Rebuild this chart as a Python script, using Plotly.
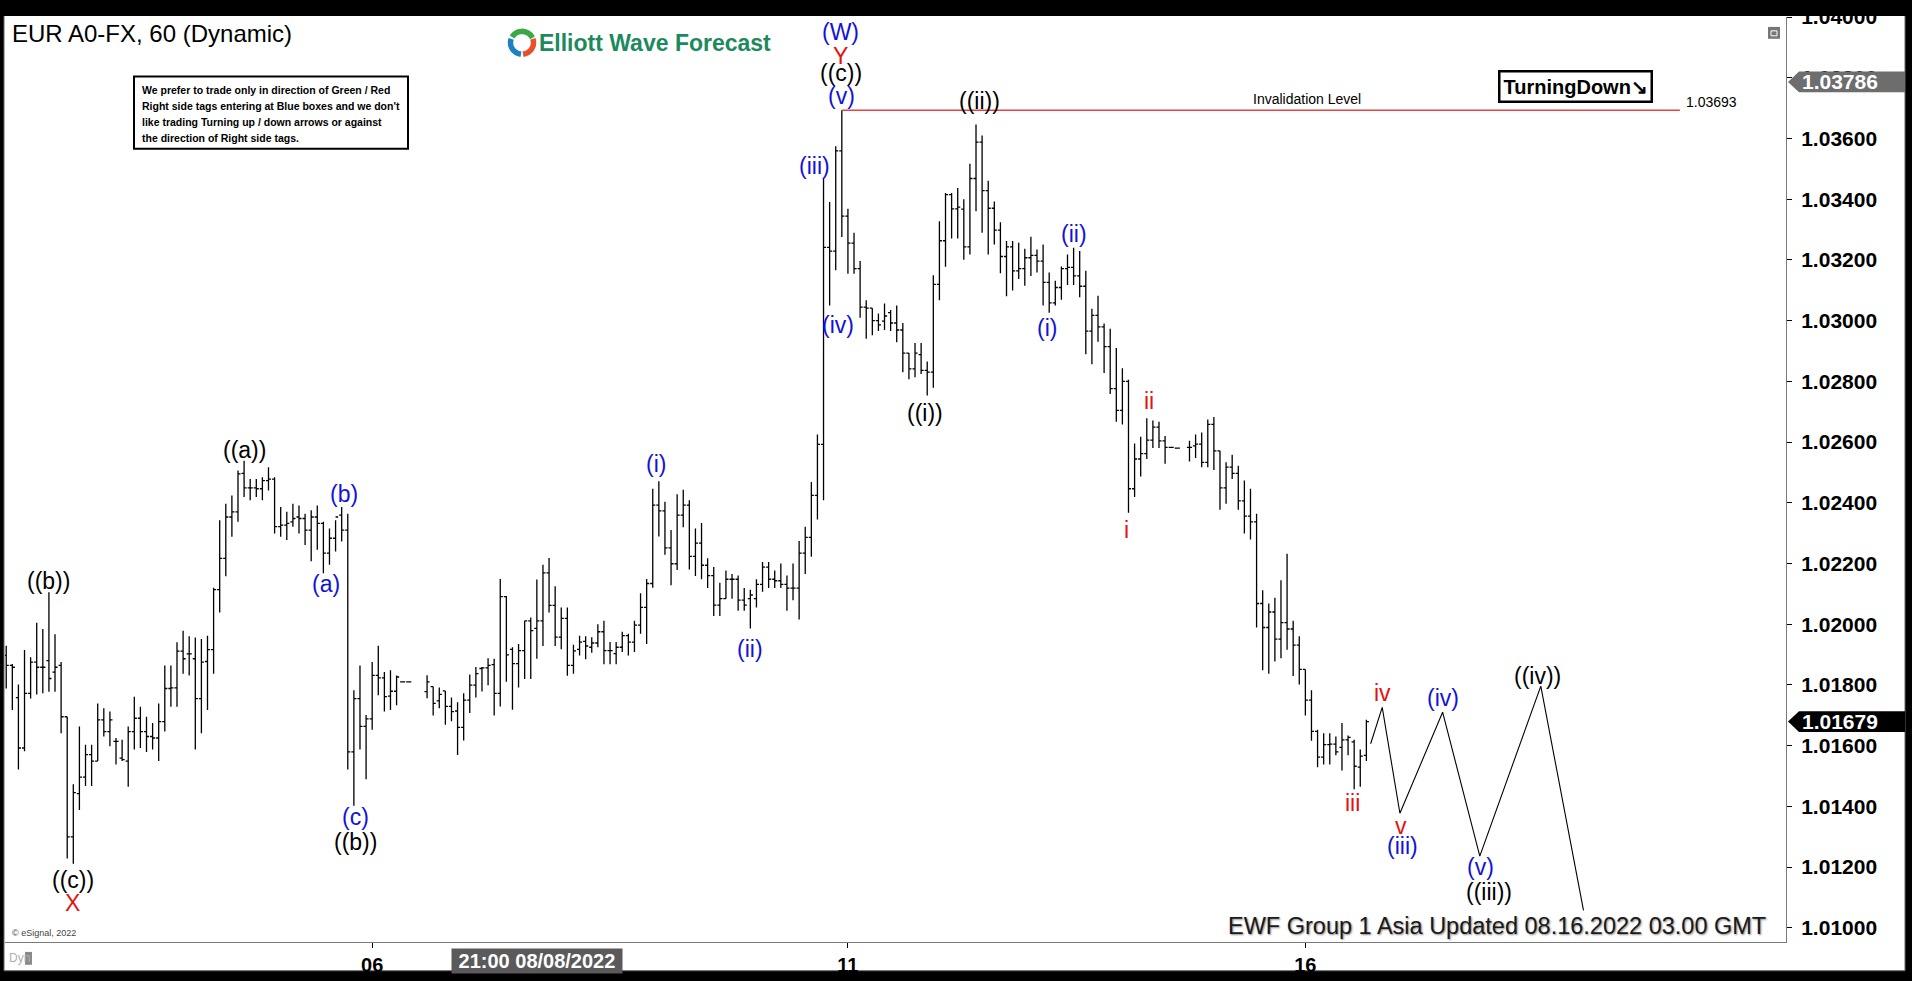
import math
import plotly.graph_objects as go

# ---------------- DATA ----------------
bar_open = [
    1.01897, 1.01864, 1.01758, 1.01592, 1.01772, 1.01875, 1.01858, 1.01880, 1.01842, 1.01864,
    1.01695, 1.01299, 1.01442, 1.01496, 1.01570, 1.01549, 1.01685, 1.01646, 1.01614, 1.01559,
    1.01549, 1.01646, 1.01690, 1.01646, 1.01630, 1.01625, 1.01679, 1.01788, 1.01790, 1.01911,
    1.01902, 1.01886, 1.01755, 1.01877, 1.01916, 1.02114, 1.02217, 1.02353, 1.02370, 1.02497,
    1.02449, 1.02449, 1.02446, 1.02473, 1.02478, 1.02321, 1.02326, 1.02337, 1.02353, 1.02348,
    1.02310, 1.02353, 1.02332, 1.02234, 1.02283, 1.02359, 1.02310, 1.01579, 1.01755, 1.01663,
    1.01688, 1.01831, 1.01823, 1.01763, 1.01779, 1.01810, 1.01810, None, None, 1.01778,
    1.01794, 1.01747, 1.01780, 1.01729, 1.01714, 1.01660, 1.01750, 1.01799, 1.01854, 1.01856,
    1.01867, 1.01772, 1.02091, 1.01917, 1.01870, 1.01913, 1.02011, 1.01986, 1.02011, 1.02169,
    1.02062, 1.01957, 1.02019, 1.01864, 1.01917, 1.01943, 1.01924, 1.01938, 1.01975, 1.01913,
    1.01903, 1.01924, 1.01962, 1.01941, 1.01997, 1.02055, 1.02134, 1.02392, 1.02373, 1.02251,
    1.02199, 1.02359, 1.02392, 1.02223, 1.02267, 1.02194, 1.02160, 1.02063, 1.02084, 1.02148,
    1.02148, 1.02079, 1.02084, 1.02084, 1.02131, 1.02188, 1.02148, 1.02143, 1.02131, 1.02119,
    1.02119, 1.02234, 1.02286, 1.02424, 1.02592, 1.03241, 1.03229, 1.03559, 1.03344, 1.03255,
    1.03171, 1.03044, 1.03041, 1.03000, 1.02998, 1.03026, 1.02992, 1.02969, 1.02893, 1.02841,
    1.02888, 1.02836, 1.02830, 1.03119, 1.03263, 1.03415, 1.03368, 1.03367, 1.03243, 1.03468,
    1.03588, 1.03428, 1.03370, 1.03298, 1.03211, 1.03243, 1.03164, 1.03171, 1.03207, 1.03215,
    1.03196, 1.03126, 1.03058, 1.03109, 1.03171, 1.03175, 1.03147, 1.03113, 1.02965, 1.03017,
    1.02979, 1.02914, 1.02776, 1.02704, 1.02800, 1.02446, 1.02544, 1.02562, 1.02606, 1.02649,
    1.02604, 1.02582, 1.02580, None, 1.02582, 1.02587, 1.02593, 1.02533, 1.02658, 1.02571,
    1.02449, 1.02517, 1.02497, 1.02406, 1.02356, 1.02337, 1.02068, 1.01989, 1.02040, 1.01951,
    1.02005, 1.01984, 1.01931, 1.01851, 1.01750, 1.01647, 1.01562, 1.01603, 1.01605, 1.01594,
    1.01619, 1.01612, 1.01529, 1.01568,
]
bar_high = [
    1.01929, 1.01869, 1.01801, 1.01915, 1.01891, 1.02005, 1.01984, 1.02105, 1.01967, 1.01875,
    1.01695, 1.01473, 1.01663, 1.01603, 1.01603, 1.01739, 1.01723, 1.01712, 1.01625, 1.01619,
    1.01663, 1.01761, 1.01728, 1.01695, 1.01674, 1.01739, 1.01864, 1.01864, 1.01940, 1.01978,
    1.01960, 1.01956, 1.01951, 1.01962, 1.02120, 1.02342, 1.02397, 1.02424, 1.02506, 1.02538,
    1.02478, 1.02478, 1.02484, 1.02517, 1.02484, 1.02386, 1.02370, 1.02397, 1.02391, 1.02364,
    1.02375, 1.02391, 1.02337, 1.02315, 1.02342, 1.02386, 1.02364, 1.01782, 1.01864, 1.01701,
    1.01875, 1.01929, 1.01842, 1.01848, 1.01831, 1.01810, 1.01810, None, None, 1.01832,
    1.01794, 1.01791, 1.01780, 1.01758, 1.01743, 1.01772, 1.01834, 1.01859, 1.01859, 1.01888,
    1.01886, 1.02149, 1.02093, 1.01924, 1.01935, 1.02011, 1.02022, 1.02147, 1.02196, 1.02218,
    1.02125, 1.02055, 1.02055, 1.01932, 1.01962, 1.01960, 1.01957, 1.02000, 1.02011, 1.01941,
    1.01941, 1.01975, 1.01968, 1.02011, 1.02102, 1.02149, 1.02446, 1.02471, 1.02403, 1.02310,
    1.02428, 1.02443, 1.02408, 1.02315, 1.02333, 1.02217, 1.02188, 1.02136, 1.02177, 1.02165,
    1.02160, 1.02119, 1.02113, 1.02148, 1.02205, 1.02205, 1.02177, 1.02200, 1.02160, 1.02200,
    1.02274, 1.02321, 1.02468, 1.02625, 1.03467, 1.03391, 1.03574, 1.03693, 1.03368, 1.03289,
    1.03196, 1.03067, 1.03041, 1.03023, 1.03056, 1.03035, 1.03050, 1.02992, 1.02893, 1.02926,
    1.02926, 1.02865, 1.03149, 1.03327, 1.03420, 1.03420, 1.03437, 1.03400, 1.03517, 1.03646,
    1.03610, 1.03461, 1.03392, 1.03324, 1.03262, 1.03262, 1.03256, 1.03237, 1.03276, 1.03234,
    1.03251, 1.03158, 1.03131, 1.03178, 1.03218, 1.03240, 1.03229, 1.03164, 1.03039, 1.03082,
    1.02990, 1.02973, 1.02910, 1.02843, 1.02805, 1.02595, 1.02617, 1.02678, 1.02671, 1.02667,
    1.02620, 1.02582, 1.02580, None, 1.02604, 1.02625, 1.02631, 1.02674, 1.02682, 1.02571,
    1.02533, 1.02558, 1.02522, 1.02473, 1.02446, 1.02364, 1.02112, 1.02068, 1.02087, 1.02145,
    1.02232, 1.02011, 1.01960, 1.01851, 1.01782, 1.01652, 1.01641, 1.01641, 1.01630, 1.01674,
    1.01633, 1.01619, 1.01587, 1.01685,
]
bar_low = [
    1.01788, 1.01717, 1.01521, 1.01581, 1.01755, 1.01768, 1.01772, 1.01777, 1.01777, 1.01641,
    1.01228, 1.01211, 1.01388, 1.01467, 1.01467, 1.01549, 1.01630, 1.01598, 1.01538, 1.01549,
    1.01464, 1.01587, 1.01592, 1.01579, 1.01587, 1.01549, 1.01646, 1.01728, 1.01728, 1.01837,
    1.01831, 1.01587, 1.01641, 1.01717, 1.01837, 1.02038, 1.02158, 1.02288, 1.02337, 1.02419,
    1.02408, 1.02419, 1.02408, 1.02440, 1.02299, 1.02288, 1.02277, 1.02321, 1.02299, 1.02261,
    1.02207, 1.02245, 1.02168, 1.02196, 1.02239, 1.02272, 1.01521, 1.01402, 1.01587, 1.01489,
    1.01652, 1.01766, 1.01712, 1.01717, 1.01733, 1.01810, 1.01810, None, None, 1.01756,
    1.01699, 1.01723, 1.01669, 1.01680, 1.01569, 1.01617, 1.01707, 1.01758, 1.01778, 1.01799,
    1.01699, 1.01729, 1.01810, 1.01718, 1.01791, 1.01819, 1.01819, 1.01886, 1.01928, 1.02038,
    1.01928, 1.01917, 1.01830, 1.01837, 1.01897, 1.01884, 1.01906, 1.01924, 1.01868, 1.01868,
    1.01868, 1.01908, 1.01897, 1.01908, 1.01968, 1.01935, 1.02120, 1.02289, 1.02229, 1.02128,
    1.02178, 1.02319, 1.02180, 1.02159, 1.02148, 1.02119, 1.02027, 1.02027, 1.02084, 1.02084,
    1.02044, 1.02044, 1.01986, 1.02055, 1.02107, 1.02119, 1.02119, 1.02119, 1.02044, 1.02079,
    1.02015, 1.02165, 1.02222, 1.02345, 1.02408, 1.03050, 1.03166, 1.03275, 1.03154, 1.03154,
    1.03009, 1.02940, 1.02952, 1.02966, 1.02969, 1.02966, 1.02929, 1.02830, 1.02807, 1.02813,
    1.02824, 1.02753, 1.02779, 1.03067, 1.03177, 1.03270, 1.03270, 1.03200, 1.03218, 1.03360,
    1.03289, 1.03218, 1.03251, 1.03156, 1.03080, 1.03099, 1.03137, 1.03115, 1.03147, 1.03158,
    1.03050, 1.03026, 1.03050, 1.03069, 1.03117, 1.03117, 1.03077, 1.02889, 1.02856, 1.02930,
    1.02827, 1.02758, 1.02667, 1.02658, 1.02367, 1.02419, 1.02486, 1.02544, 1.02580, 1.02580,
    1.02528, 1.02582, 1.02580, None, 1.02536, 1.02547, 1.02517, 1.02517, 1.02508, 1.02377,
    1.02397, 1.02478, 1.02377, 1.02299, 1.02279, 1.01989, 1.01848, 1.01837, 1.01877, 1.01888,
    1.01916, 1.01829, 1.01801, 1.01699, 1.01616, 1.01529, 1.01538, 1.01538, 1.01568, 1.01518,
    1.01568, 1.01456, 1.01464, 1.01549,
]
bar_close = [
    1.01864, 1.01858, 1.01592, 1.01772, 1.01875, 1.01858, 1.01858, 1.01821, 1.01858, 1.01695,
    1.01299, 1.01445, 1.01496, 1.01570, 1.01549, 1.01685, 1.01646, 1.01685, 1.01614, 1.01554,
    1.01646, 1.01690, 1.01646, 1.01630, 1.01625, 1.01679, 1.01788, 1.01790, 1.01911, 1.01886,
    1.01902, 1.01755, 1.01875, 1.01916, 1.02114, 1.02217, 1.02353, 1.02370, 1.02495, 1.02449,
    1.02449, 1.02446, 1.02473, 1.02478, 1.02321, 1.02326, 1.02332, 1.02348, 1.02348, 1.02310,
    1.02353, 1.02332, 1.02234, 1.02283, 1.02353, 1.02310, 1.01579, 1.01755, 1.01663, 1.01688,
    1.01831, 1.01823, 1.01761, 1.01779, 1.01826, 1.01810, 1.01810, None, None, 1.01810,
    1.01739, 1.01769, 1.01729, 1.01712, 1.01660, 1.01750, 1.01799, 1.01837, 1.01856, 1.01864,
    1.01772, 1.02091, 1.01899, 1.01870, 1.01913, 1.02011, 1.01979, 1.02011, 1.02169, 1.02062,
    1.01957, 1.02019, 1.01864, 1.01912, 1.01941, 1.01928, 1.01938, 1.01975, 1.01913, 1.01913,
    1.01924, 1.01962, 1.01941, 1.01997, 1.02055, 1.02134, 1.02392, 1.02373, 1.02251, 1.02199,
    1.02359, 1.02392, 1.02223, 1.02267, 1.02194, 1.02160, 1.02063, 1.02084, 1.02148, 1.02148,
    1.02079, 1.02063, 1.02096, 1.02131, 1.02188, 1.02148, 1.02143, 1.02131, 1.02119, 1.02119,
    1.02234, 1.02286, 1.02424, 1.02592, 1.03241, 1.03229, 1.03559, 1.03344, 1.03255, 1.03171,
    1.03044, 1.03041, 1.03000, 1.02986, 1.03015, 1.02992, 1.02969, 1.02893, 1.02841, 1.02893,
    1.02836, 1.02830, 1.03119, 1.03263, 1.03415, 1.03368, 1.03374, 1.03243, 1.03468, 1.03588,
    1.03428, 1.03370, 1.03298, 1.03211, 1.03243, 1.03164, 1.03171, 1.03207, 1.03215, 1.03196,
    1.03126, 1.03058, 1.03109, 1.03171, 1.03175, 1.03147, 1.03113, 1.02965, 1.03017, 1.02979,
    1.02914, 1.02776, 1.02704, 1.02800, 1.02446, 1.02544, 1.02562, 1.02606, 1.02649, 1.02604,
    1.02582, 1.02582, 1.02580, None, 1.02582, 1.02593, 1.02533, 1.02658, 1.02571, 1.02449,
    1.02517, 1.02497, 1.02406, 1.02356, 1.02337, 1.02068, 1.01989, 1.02040, 1.01951, 1.02005,
    1.01984, 1.01931, 1.01851, 1.01750, 1.01647, 1.01562, 1.01603, 1.01605, 1.01579, 1.01619,
    1.01627, 1.01532, 1.01565, 1.01679,
]

day_tick_pos = [60, 138, 213]
day_tick_text = ["06", "11", "16"]
price_ticks = [1.010, 1.012, 1.014, 1.016, 1.018, 1.020, 1.022, 1.024,
               1.026, 1.028, 1.030, 1.032, 1.034, 1.036, 1.038, 1.040]

# projected Elliott-wave path
proj_x = [223.7, 225.6, 228.5, 235.5, 241.6, 251.6, 258.6]
proj_y = [1.01606, 1.01726, 1.01377, 1.01710, 1.01236, 1.01796, 1.01057]

invalidation_level = 1.03693
invalidation_start = 137
invalidation_end = 274.4
last_price = 1.01679
marker_price = 1.03786
cursor_pos = 87
cursor_text = "21:00 08/08/2022"

BLK, BLU, RED = "#000000", "#1212d8", "#e31212"
wave_text = ["((b))", "((c))", "X", "((a))", "(b)", "(a)", "(c)", "((b))", "(i)", "(ii)",
             "(iii)", "(iv)", "(v)", "((c))", "Y", "(W)", "((ii))", "((i))", "(ii)", "(i)",
             "ii", "i", "iii", "iv", "v", "(iii)", "(iv)", "(v)", "((iii))", "((iv))"]
wave_x = [7.0, 10.9, 10.8, 39.0, 55.4, 52.4, 57.2, 57.2, 106.6, 121.9,
          132.6, 136.4, 137.0, 136.8, 136.7, 136.8, 159.6, 150.7, 175.0, 170.7,
          187.4, 183.7, 220.8, 225.6, 228.6, 228.9, 235.6, 241.7, 243.1, 251.1]
wave_y = [1.02142, 1.01158, 1.01081, 1.02574, 1.02430, 1.02131, 1.01364, 1.01283, 1.02528, 1.01919,
          1.03510, 1.02986, 1.03740, 1.03815, 1.03870, 1.03950, 1.03724, 1.02695, 1.03284, 1.02974,
          1.02734, 1.02310, 1.01410, 1.01774, 1.01335, 1.01269, 1.01756, 1.01201, 1.01119, 1.01830]
wave_color = [BLK, BLK, RED, BLK, BLU, BLU, BLU, BLK, BLU, BLU,
              BLU, BLU, BLU, BLK, RED, BLU, BLK, BLK, BLU, BLU,
              RED, RED, RED, RED, RED, BLU, BLU, BLU, BLK, BLK]

disclaimer_lines = [
    "We prefer to trade only in direction of Green / Red",
    "Right side tags entering at Blue boxes and we don't",
    "like trading Turning up / down arrows or against",
    "the direction of Right side tags.",
]

# ---------------- LAYOUT GEOMETRY ----------------
W, H = 1912, 981
L, R, T, B = 5, 1786, 12, 946
Y_RANGE = [1.00953, 1.04000]
X_RANGE = [-0.2, 291.8]
FONT = "Arial, 'Liberation Sans', sans-serif"


def px(v):
    return (v - L) / (R - L)


def py(v):
    return (B - v) / (B - T)


price_per_px = (Y_RANGE[1] - Y_RANGE[0]) / (B - T)

idx = [i for i in range(len(bar_open)) if bar_open[i] is not None]

fig = go.Figure()
fig.add_trace(go.Ohlc(
    x=idx,
    open=[bar_open[i] for i in idx],
    high=[bar_high[i] for i in idx],
    low=[bar_low[i] for i in idx],
    close=[bar_close[i] for i in idx],
    increasing=dict(line=dict(color="black", width=1.3)),
    decreasing=dict(line=dict(color="black", width=1.3)),
    tickwidth=0.42,
    hoverinfo="skip",
    showlegend=False,
))
fig.add_trace(go.Scatter(
    x=[invalidation_start, invalidation_end], y=[invalidation_level, invalidation_level],
    mode="lines", line=dict(color="#e04444", width=1.6), hoverinfo="skip", showlegend=False))
fig.add_trace(go.Scatter(
    x=proj_x, y=proj_y, mode="lines", line=dict(color="black", width=1.1),
    hoverinfo="skip", showlegend=False))

shapes = []
# white chart area inside the black frame
shapes.append(dict(type="rect", xref="paper", yref="paper", layer="below",
                   x0=px(4), x1=px(1905), y0=py(975), y1=py(10),
                   fillcolor="white", line=dict(color="#666666", width=1)))
# top black band (cuts the top tick label like the original)
shapes.append(dict(type="rect", xref="paper", yref="paper", layer="above",
                   x0=px(0), x1=px(W), y0=py(11), y1=py(0),
                   fillcolor="black", line=dict(width=0)))
# disclaimer box
shapes.append(dict(type="rect", xref="paper", yref="paper", layer="above",
                   x0=px(134), x1=px(408), y0=py(145), y1=py(72),
                   fillcolor="white", line=dict(color="black", width=2)))


def badge(price, color):
    h = 10.5 * price_per_px
    path = (f"M {px(1788)},{price} L {px(1799)},{price + h} L {px(1905)},{price + h} "
            f"L {px(1905)},{price - h} L {px(1799)},{price - h} Z")
    return dict(type="path", xref="paper", yref="y", layer="above", path=path,
                fillcolor=color, line=dict(width=0))


shapes.append(badge(marker_price, "#6d6d6d"))
shapes.append(badge(last_price, "#000000"))


# logo icon arcs
def arc(cx, cy, r, a0, a1, color):
    pts = []
    n = 18
    for k in range(n + 1):
        a = math.radians(a0 + (a1 - a0) * k / n)
        pts.append((px(cx + r * math.cos(a)), py(cy - r * math.sin(a))))
    path = "M " + " L ".join(f"{x},{y}" for x, y in pts)
    return dict(type="path", xref="paper", yref="paper", layer="above", path=path,
                line=dict(color=color, width=5.5))


shapes.append(arc(522, 38, 11.5, 25, 150, "#3aa845"))
shapes.append(arc(522, 38, 11.5, 160, 265, "#1f7fc4"))
shapes.append(arc(522, 38, 11.5, 275, 380, "#e8502a"))
# small window icon top right
shapes.append(dict(type="rect", xref="paper", yref="paper", layer="above",
                   x0=px(1768), x1=px(1780), y0=py(34), y1=py(22),
                   fillcolor="#777777", line=dict(width=0)))
shapes.append(dict(type="rect", xref="paper", yref="paper", layer="above",
                   x0=px(1771), x1=px(1777), y0=py(31), y1=py(26),
                   fillcolor="#777777", line=dict(color="white", width=1)))
# lock icon near "Dyn"
shapes.append(dict(type="rect", xref="paper", yref="paper", layer="above",
                   x0=px(25), x1=px(32), y0=py(969), y1=py(956),
                   fillcolor="#8a8a8a", line=dict(width=0)))

ann = []
for t, x, y, c in zip(wave_text, wave_x, wave_y, wave_color):
    ann.append(dict(x=x, y=y, xref="x", yref="y", text=t, showarrow=False,
                    font=dict(family=FONT, size=23, color=c),
                    xanchor="center", yanchor="middle"))

ann.append(dict(x=px(10), y=py(29), xref="paper", yref="paper", text="EUR A0-FX, 60 (Dynamic)",
                showarrow=False, xanchor="left", yanchor="middle",
                font=dict(family=FONT, size=24, color="black")))
ann.append(dict(x=px(537), y=py(38), xref="paper", yref="paper", text="Elliott Wave Forecast",
                showarrow=False, xanchor="left", yanchor="middle",
                font=dict(family=FONT, size=23, color="#1c8a5c", weight="bold")))
for k, line in enumerate(disclaimer_lines):
    ann.append(dict(x=px(140), y=py(86 + k * 16), xref="paper", yref="paper", text=line,
                    showarrow=False, xanchor="left", yanchor="middle",
                    font=dict(family=FONT, size=10.5, color="black", weight="bold")))
ann.append(dict(x=213.2, y=1.03730, xref="x", yref="y", text="Invalidation Level",
                showarrow=False, font=dict(family=FONT, size=14, color="black")))
ann.append(dict(x=px(1684), y=1.03720, xref="paper", yref="y", text=f"{invalidation_level:.5f}",
                showarrow=False, xanchor="left", font=dict(family=FONT, size=14, color="black")))
ann.append(dict(x=257.3, y=1.03772, xref="x", yref="y", text="TurningDown↘",
                showarrow=False, bordercolor="black", borderwidth=2.5, borderpad=3, bgcolor="white",
                font=dict(family=FONT, size=20, color="black", weight="bold")))
ann.append(dict(x=px(1768), y=py(930), xref="paper", yref="paper",
                text="EWF Group 1 Asia Updated 08.16.2022 03.00 GMT",
                showarrow=False, xanchor="right", yanchor="middle",
                font=dict(family=FONT, size=23.5, color="#1a1a1a", shadow="1px 1px 2px #888888")))
ann.append(dict(x=px(10), y=py(937), xref="paper", yref="paper", text="© eSignal, 2022",
                showarrow=False, xanchor="left", yanchor="middle",
                font=dict(family=FONT, size=9, color="#444444")))
ann.append(dict(x=px(7), y=py(962), xref="paper", yref="paper", text="Dyn",
                showarrow=False, xanchor="left", yanchor="middle",
                font=dict(family=FONT, size=12, color="#b0b0b0")))
ann.append(dict(x=cursor_pos, y=py(965), xref="x", yref="paper",
                text="\u00a0" + cursor_text + "\u00a0",
                showarrow=False, xanchor="center", yanchor="middle", bgcolor="#5a5a5a", borderpad=1,
                font=dict(family=FONT, size=20, color="white", weight="bold")))
for p in (marker_price, last_price):
    ann.append(dict(x=px(1800), y=p, xref="paper", yref="y", text=f"{p:.5f}",
                    showarrow=False, xanchor="left", yanchor="middle",
                    font=dict(family=FONT, size=21, color="white", weight="bold")))

fig.update_layout(
    width=W, height=H,
    margin=dict(l=L, r=W - R, t=T, b=H - B, pad=0),
    paper_bgcolor="black", plot_bgcolor="white",
    showlegend=False, hovermode=False,
    shapes=shapes, annotations=ann,
    xaxis=dict(range=X_RANGE, showgrid=False, zeroline=False,
               rangeslider=dict(visible=False),
               tickmode="array", tickvals=day_tick_pos, ticktext=day_tick_text,
               ticks="outside", ticklen=5, tickcolor="black",
               showline=True, linecolor="#7a7a7a", linewidth=1,
               tickfont=dict(family=FONT, size=20, color="black", weight="bold")),
    yaxis=dict(side="right", range=Y_RANGE, showgrid=False, zeroline=False,
               tickmode="array", tickvals=price_ticks,
               ticktext=[f"{v:.5f}" for v in price_ticks],
               ticks="outside", ticklen=5, tickcolor="black",
               showline=True, linecolor="#7a7a7a", linewidth=1,
               ticklabelstandoff=5,
               tickfont=dict(family=FONT, size=21, color="black", weight="bold")),
)

fig.write_html("out.html", include_plotlyjs=True, full_html=True,
               config={"staticPlot": True},
               post_script="document.body.style.margin='0';document.body.style.overflow='hidden';")
